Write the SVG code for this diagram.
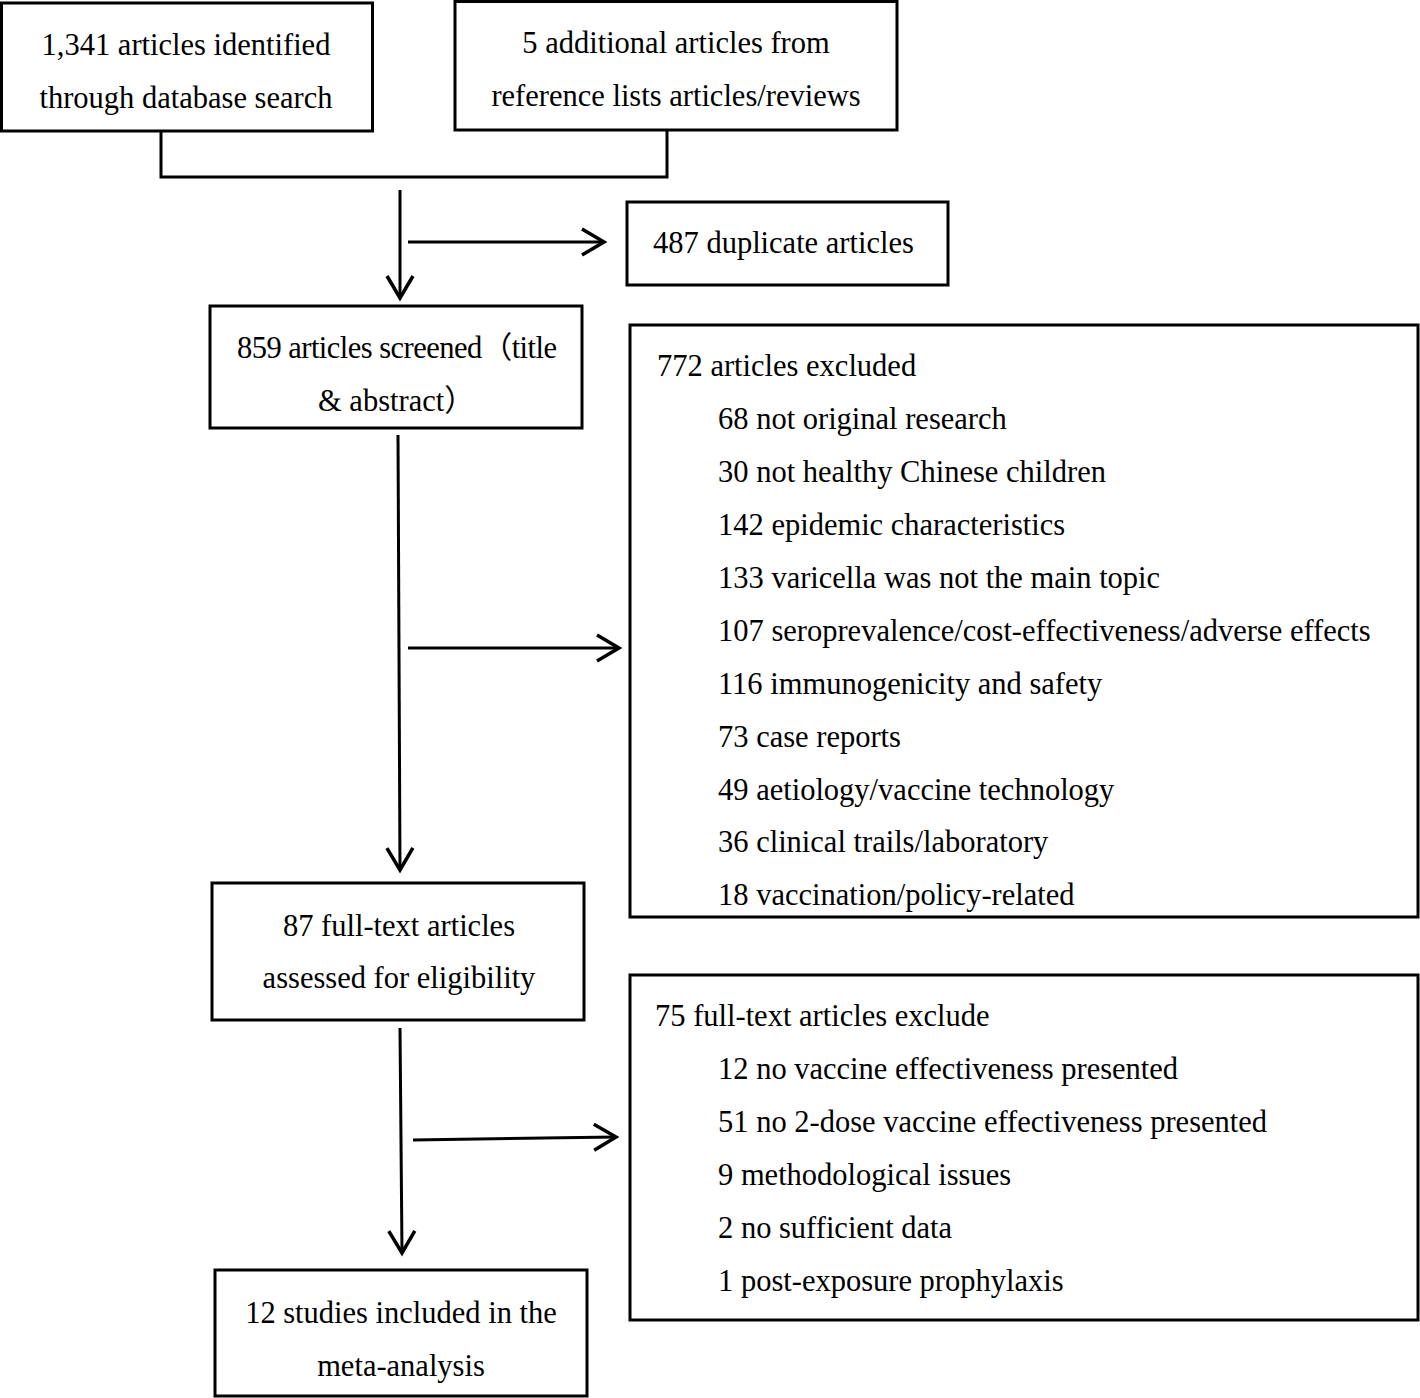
<svg xmlns="http://www.w3.org/2000/svg" width="1420" height="1398" viewBox="0 0 1420 1398">
<style>
.box{fill:#fff;stroke:#000;stroke-width:3}
.t{font-family:"Liberation Serif","Noto Sans CJK SC",serif;font-size:30.5px;fill:#000}
.c{text-anchor:middle}
.ln{fill:none;stroke:#000;stroke-width:3}
</style>
<defs>
<marker id="ah" markerUnits="userSpaceOnUse" markerWidth="30" markerHeight="32" viewBox="-24 -16 28 32" refX="0" refY="0" orient="auto" overflow="visible">
<path d="M-22,-13 L0,0 L-22,13" fill="none" stroke="#000" stroke-width="3.5" stroke-linejoin="miter"/>
</marker>
</defs>
<rect width="1420" height="1398" fill="#fff"/>
<g id="connectors">
<polyline class="ln" points="161,131 161,177 667,177 667,130"/>
<line class="ln" x1="400" y1="190" x2="400" y2="298" marker-end="url(#ah)"/>
<line class="ln" x1="408" y1="242" x2="604" y2="242" marker-end="url(#ah)"/>
<line class="ln" x1="398" y1="435" x2="400" y2="870" marker-end="url(#ah)"/>
<line class="ln" x1="408" y1="648" x2="619" y2="648" marker-end="url(#ah)"/>
<line class="ln" x1="400" y1="1028" x2="402" y2="1253" marker-end="url(#ah)"/>
<line class="ln" x1="413" y1="1140" x2="616" y2="1137" marker-end="url(#ah)"/>
</g>
<g id="n1">
<rect class="box" x="1.5" y="3" width="371" height="128"/>
<text class="t c" x="186" y="55">1,341 articles identified</text>
<text class="t c" x="186" y="108">through database search</text>
</g>
<g id="n2">
<rect class="box" x="455" y="1.5" width="442" height="128.5"/>
<text class="t c" x="676" y="53">5 additional articles from</text>
<text class="t c" x="676" y="106">reference lists articles/reviews</text>
</g>
<g id="n3">
<rect class="box" x="627" y="202" width="321" height="83"/>
<text class="t" x="653" y="253">487 duplicate articles</text>
</g>
<g id="n4">
<rect class="box" x="210" y="306" width="372" height="122"/>
<text class="t" x="237" y="358" textLength="320" lengthAdjust="spacing">859 articles screened（title</text>
<text class="t" x="318" y="411">&amp; abstract）</text>
</g>
<g id="n5">
<rect class="box" x="630" y="325" width="788" height="592"/>
<text class="t" x="657" y="376">772 articles excluded</text>
<text class="t" x="718" y="429">68 not original research</text>
<text class="t" x="718" y="482">30 not healthy Chinese children</text>
<text class="t" x="718" y="535">142 epidemic characteristics</text>
<text class="t" x="718" y="588">133 varicella was not the main topic</text>
<text class="t" x="718" y="641">107 seroprevalence/cost-effectiveness/adverse effects</text>
<text class="t" x="718" y="694">116 immunogenicity and safety</text>
<text class="t" x="718" y="747">73 case reports</text>
<text class="t" x="718" y="800">49 aetiology/vaccine technology</text>
<text class="t" x="718" y="852">36 clinical trails/laboratory</text>
<text class="t" x="718" y="905">18 vaccination/policy-related</text>
</g>
<g id="n6">
<rect class="box" x="212" y="883" width="372" height="137"/>
<text class="t c" x="399" y="936">87 full-text articles</text>
<text class="t c" x="399" y="988">assessed for eligibility</text>
</g>
<g id="n7">
<rect class="box" x="630" y="975" width="788" height="345"/>
<text class="t" x="655" y="1026">75 full-text articles exclude</text>
<text class="t" x="718" y="1079">12 no vaccine effectiveness presented</text>
<text class="t" x="718" y="1132">51 no 2-dose vaccine effectiveness presented</text>
<text class="t" x="718" y="1185">9 methodological issues</text>
<text class="t" x="718" y="1238">2 no sufficient data</text>
<text class="t" x="718" y="1291">1 post-exposure prophylaxis</text>
</g>
<g id="n8">
<rect class="box" x="215" y="1270" width="372" height="126"/>
<text class="t c" x="401" y="1323">12 studies included in the</text>
<text class="t c" x="401" y="1376">meta-analysis</text>
</g>
</svg>
